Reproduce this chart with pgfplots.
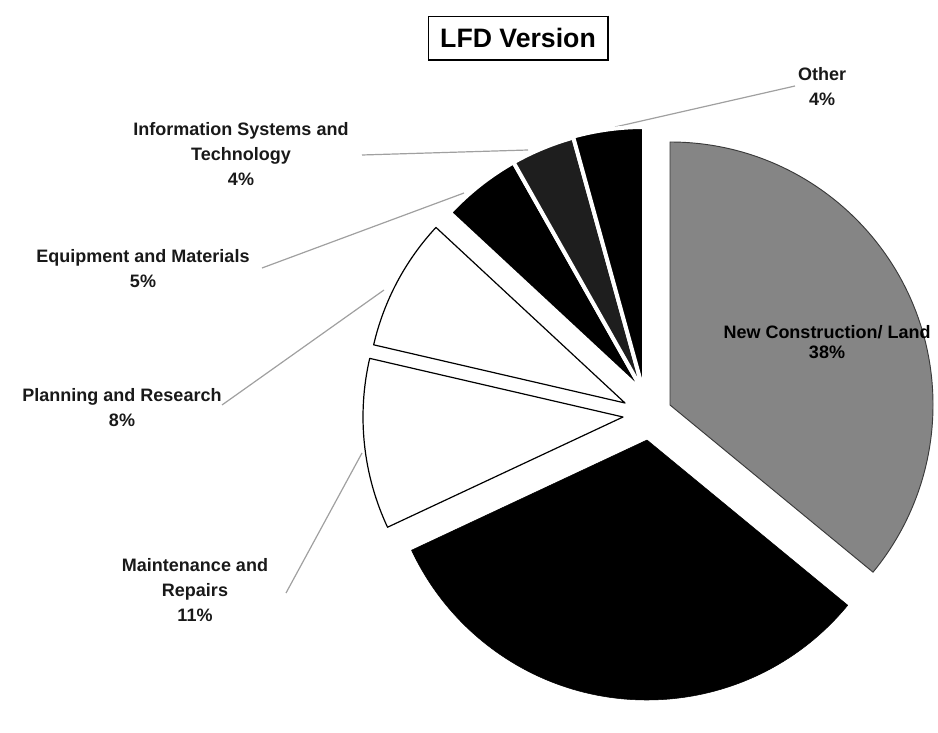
\documentclass[border=0pt]{standalone}
\usepackage{pgfplots}
\pgfplotsset{compat=1.18}
\usepackage{pgfplotstable}
\usepackage{fontspec}
\setmainfont{Liberation Sans}
\definecolor{wedgegray}{HTML}{858585}
\definecolor{speck}{HTML}{1E1E1E}
\definecolor{leader}{HTML}{A0A0A0}
\definecolor{edgegray}{HTML}{3A3A3A}
\newcommand\lab{\fontsize{13.5}{18.5}\selectfont\bfseries}

% shares (angles of the wedges); apex and radius in picture pixels
\pgfplotstableread{
name value cx cy rad fc dc lw
NewConstruction 36.0 670 405 263 wedgegray edgegray 0.7
Unlabeled 32.1 647 440 260 black black 0.4
Maintenance 10.6 623 417 260 white black 0.9
Planning 8.3 625 403 258 white black 0.9
Equipment 4.9 644 393 265 black white 3
InfoSystems 3.9 644 393 265 speck white 3
Other 4.3 644 393 266 black white 3
}\piedata

\pgfplotstablegetrowsof{\piedata}%
\pgfmathtruncatemacro\lastrow{\pgfplotsretval-1}%
\def\total{0}%
\pgfplotsforeachungrouped \i in {0,...,\lastrow}{%
  \pgfplotstablegetelem{\i}{value}\of\piedata%
  \pgfmathsetmacro\total{\total+\pgfplotsretval}}%
\def\piecmds{}%
\def\cum{0}%
\pgfplotsforeachungrouped \i in {0,...,\lastrow}{%
  \pgfplotstablegetelem{\i}{value}\of\piedata\let\myv\pgfplotsretval%
  \pgfplotstablegetelem{\i}{cx}\of\piedata\let\mycx\pgfplotsretval%
  \pgfplotstablegetelem{\i}{cy}\of\piedata\pgfmathsetmacro\mycy{701-\pgfplotsretval}%
  \pgfplotstablegetelem{\i}{rad}\of\piedata\pgfmathsetmacro\myr{0.75*\pgfplotsretval}%
  \pgfplotstablegetelem{\i}{fc}\of\piedata\let\myfc\pgfplotsretval%
  \pgfplotstablegetelem{\i}{dc}\of\piedata\let\mydc\pgfplotsretval%
  \pgfplotstablegetelem{\i}{lw}\of\piedata\let\mylw\pgfplotsretval%
  \pgfmathsetmacro\aone{90-(\cum/\total)*360}%
  \pgfmathsetmacro\cum{\cum+\myv}%
  \pgfmathsetmacro\atwo{90-(\cum/\total)*360}%
  \edef\piecmds{\unexpanded\expandafter{\piecmds}%
    \noexpand\filldraw[fill=\myfc,draw=\mydc,line width=\mylw pt,line join=round]
    (axis cs:\mycx,\mycy) -- ++(\aone:\myr pt) arc[start angle=\aone,end angle=\atwo,radius=\myr pt] -- cycle;}%
}%

\begin{document}
\begin{tikzpicture}
\begin{axis}[scale only axis, width=703.5pt, height=525.75pt,
  xmin=0, xmax=938, ymin=0, ymax=701, hide axis, clip=false]
\path (rel axis cs:0,0) rectangle (rel axis cs:1,1);
% leader lines
\draw[leader, line width=0.9pt] (axis cs:795,615) -- (axis cs:615,574);
\draw[leader, line width=0.9pt] (axis cs:362,546) -- (axis cs:528,551);
\draw[leader, line width=0.9pt] (axis cs:262,433) -- (axis cs:464,508);
\draw[leader, line width=0.9pt] (axis cs:222,296) -- (axis cs:384,411);
\draw[leader, line width=0.9pt] (axis cs:286,108) -- (axis cs:362,248);
% wedges
\piecmds
% labels
\node[align=center, font=\lab, text=black!90] at (axis cs:822,614.5) {Other\\4\%};
\node[align=center, font=\lab, text=black!90] at (axis cs:241,547) {Information Systems and\\Technology\\4\%};
\node[align=center, font=\lab, text=black!90] at (axis cs:143,432.5) {Equipment and Materials\\5\%};
\node[align=center, font=\lab, text=black!90] at (axis cs:122,293.5) {Planning and Research\\8\%};
\node[align=center, font=\lab, text=black!90] at (axis cs:195,111) {Maintenance and\\Repairs\\11\%};
\node[align=center, font=\fontsize{13.5}{15}\selectfont\bfseries, text=black] at (axis cs:827,359) {New Construction/ Land\\38\%};
% title
\node[draw, line width=0.6pt, minimum width=135pt, minimum height=33pt, inner sep=0pt,
  font=\fontsize{20}{24}\selectfont\bfseries] (t) at (axis cs:518,663) {LFD Version};
\draw[line width=1.6pt] (t.north east) -- (t.south east) -- (t.south west);
\end{axis}
\end{tikzpicture}
\end{document}
